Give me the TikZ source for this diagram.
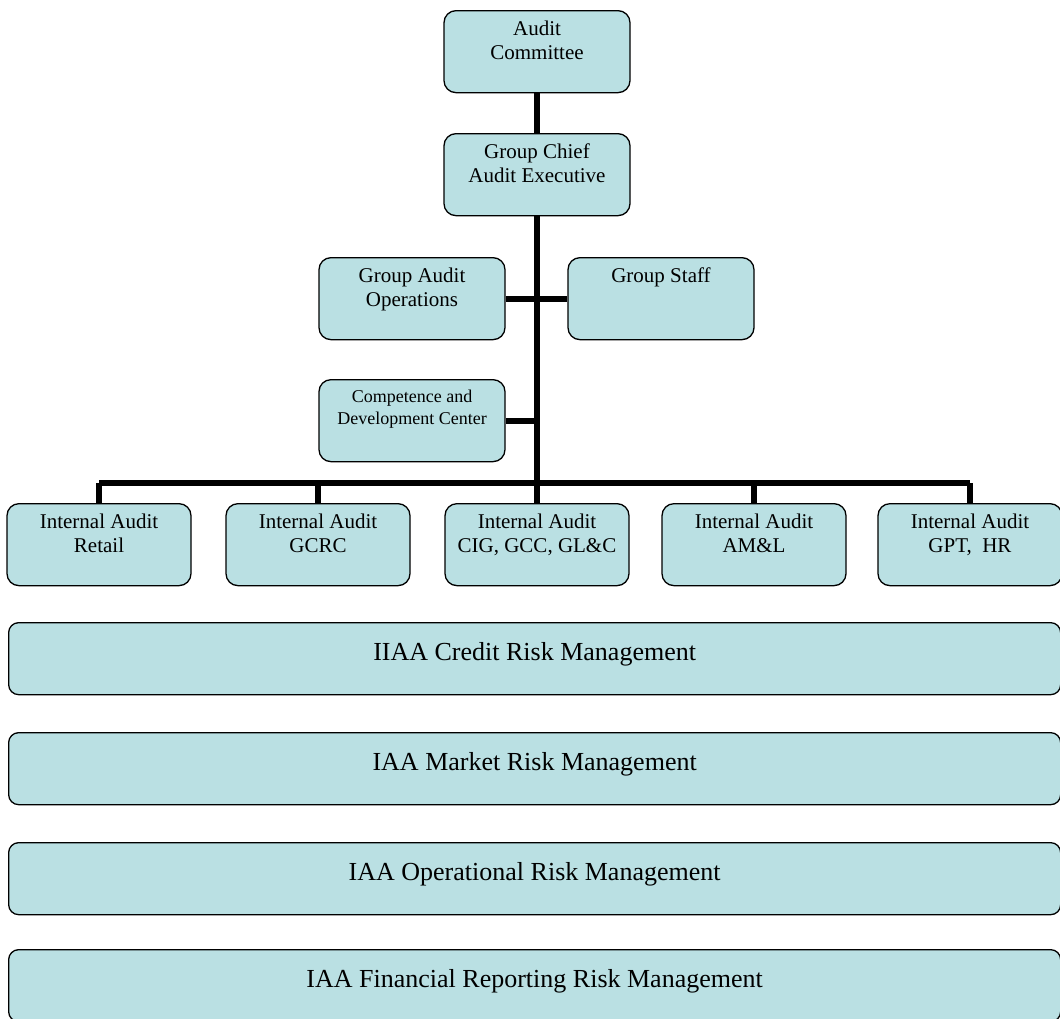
\documentclass[tikz,border=0pt]{standalone}
\usepackage{fontspec}
\setmainfont{Liberation Serif}
\usetikzlibrary{positioning}

\definecolor{boxfill}{RGB}{186,224,227}

\begin{document}
\begin{tikzpicture}[
    x=1pt, y=-1pt,
    unit/.style={
        rectangle,
        rounded corners=12pt,
        draw=black,
        fill=boxfill,
        line width=1.3pt,
        minimum width=186pt,
        minimum height=82pt,
        anchor=north,
        align=center,
        inner ysep=10pt,
        text height=39pt,
        text depth=23pt,
        font=\fontsize{21}{24}\selectfont
    },
    oneline/.style={
        text height=15pt,
        text depth=47pt
    },
    small/.style={
        font=\fontsize{18}{21.5}\selectfont,
        text height=34.5pt,
        text depth=27.5pt
    },
    band/.style={
        rectangle,
        rounded corners=10pt,
        draw=black,
        fill=boxfill,
        line width=1.3pt,
        minimum width=1052pt,
        minimum height=72pt,
        anchor=north west,
        inner ysep=20pt,
        text height=18pt,
        text depth=14pt,
        font=\fontsize{26}{30}\selectfont
    },
    link/.style={line width=6pt, draw=black}
]
\useasboundingbox (0,0) rectangle (1060,1018);

% Top of the chart
\node[unit] (committee) at (537,10) {Audit\\Committee};
\node[unit] (chief) at (537,133) {Group Chief\\Audit Executive};

% Staff units
\node[unit] (operations) at (412,257) {Group Audit\\Operations};
\node[unit, oneline] (staff) at (661,257) {Group Staff};
\node[unit, small] (competence) at (412,379) {Competence and\\Development Center};

% Internal audit units
\node[unit, minimum width=184pt] (retail) at (99,503) {Internal Audit\\Retail};
\node[unit, minimum width=184pt] (gcrc) at (318,503) {Internal Audit\\GCRC};
\node[unit, minimum width=184pt] (cig) at (537,503) {Internal Audit\\CIG, GCC, GL\&C};
\node[unit, minimum width=184pt] (aml) at (754,503) {Internal Audit\\AM\&L};
\node[unit, minimum width=184pt] (gpt) at (970,503) {Internal Audit\\GPT,\ \ HR};

% Risk management bands
\node[band] (credit) at (8,622) {IIAA Credit Risk Management};
\node[band, minimum height=71pt] (market) at (8,732) {IAA Market Risk Management};
\node[band, minimum height=71pt] (operational) at (8,842) {IAA Operational Risk Management};
\node[band] (financial) at (8,949) {IAA Financial Reporting Risk Management};

% Connectors
\coordinate (bus) at (537,483);
\draw[link] (committee) -- (chief);
\draw[link] (chief.south) -- (bus);
\draw[link] (operations.east) -- (staff.west);
\draw[link] (competence.east) -- (competence.east -| bus);
\draw[link] (retail.north |- bus) -- (gpt.north |- bus);
\foreach \u in {retail, gcrc, cig, aml, gpt}
    \draw[link] (\u.north) -- (\u.north |- bus);

\end{tikzpicture}
\end{document}
